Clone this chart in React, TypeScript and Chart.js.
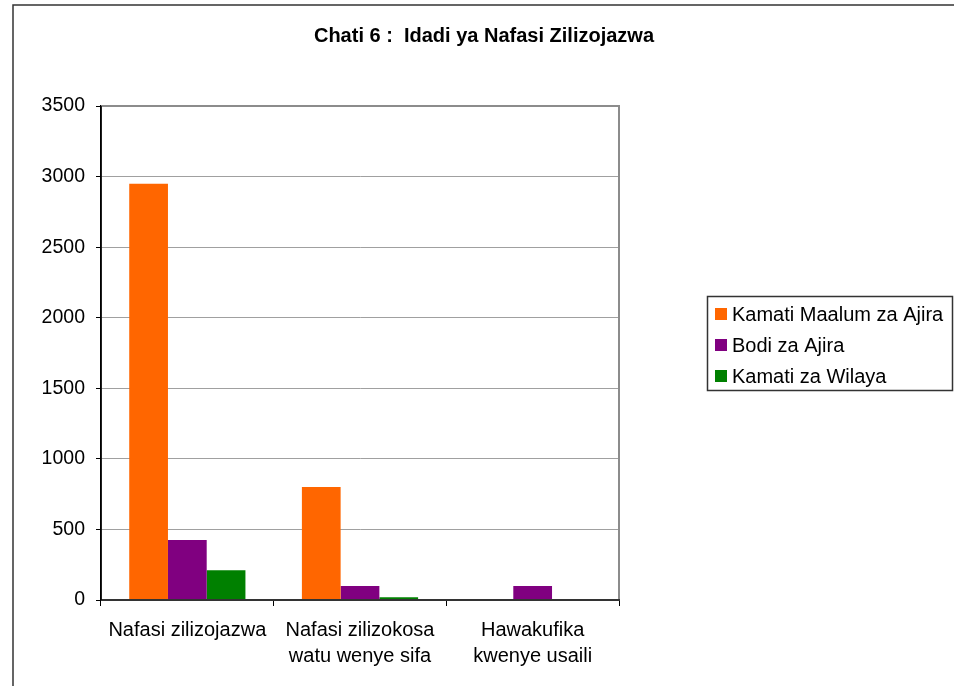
import React, { useEffect, useRef } from "react";
import { Chart, registerables } from "chart.js";

Chart.register(...registerables);

const categories: string[][] = [
  ["Nafasi zilizojazwa"],
  ["Nafasi zilizokosa", "watu wenye sifa"],
  ["Hawakufika", "kwenye usaili"],
];
const seriesNames = ["Kamati Maalum za Ajira", "Bodi za Ajira", "Kamati za Wilaya"];
const kamatiMaalum = [2950, 800, 0];
const bodiAjira = [425, 100, 100];
const kamatiWilaya = [210, 20, 0];
const seriesColors = ["#FF6600", "#800080", "#008000"];
const titleText = "Chati 6 :  Idadi ya Nafasi Zilizojazwa";
const yMin = 0;
const yMax = 3500;
const yStep = 500;

const FONT = "'Liberation Sans', Arial, sans-serif";

const decorPlugin = {
  id: "decor",
  beforeDraw(chart: any) {
    const ctx = chart.ctx;
    ctx.save();
    ctx.fillStyle = "#ffffff";
    ctx.fillRect(0, 0, chart.width, chart.height);
    // outer frame
    ctx.strokeStyle = "#333333";
    ctx.lineWidth = 1.5;
    ctx.beginPath();
    ctx.moveTo(13, chart.height + 2);
    ctx.lineTo(13, 5);
    ctx.lineTo(chart.width + 2, 5);
    ctx.stroke();
    // title
    ctx.fillStyle = "#000000";
    ctx.font = `bold 20px ${FONT}`;
    ctx.textAlign = "center";
    ctx.textBaseline = "alphabetic";
    ctx.fillText(titleText, 484, 42);
    ctx.restore();
  },
  afterDatasetsDraw(chart: any) {
    const ctx = chart.ctx;
    const a = chart.chartArea;
    ctx.save();
    ctx.strokeStyle = "#8c8c8c";
    ctx.lineWidth = 2;
    ctx.beginPath();
    ctx.moveTo(a.left, a.top);
    ctx.lineTo(a.right, a.top);
    ctx.lineTo(a.right, a.bottom);
    ctx.stroke();
    ctx.strokeStyle = "#333333";
    ctx.lineWidth = 2;
    ctx.beginPath();
    ctx.moveTo(a.left, a.bottom);
    ctx.lineTo(a.right + 1, a.bottom);
    ctx.stroke();
    ctx.strokeStyle = "#000000";
    ctx.lineWidth = 1.5;
    ctx.beginPath();
    ctx.moveTo(a.left, a.top);
    ctx.lineTo(a.left, a.bottom);
    ctx.stroke();

    // legend
    const lx = 707.5, ly = 296.5, lw = 245, lh = 94;
    ctx.strokeStyle = "#333333";
    ctx.lineWidth = 1.5;
    ctx.strokeRect(lx, ly, lw, lh);
    ctx.font = `20px ${FONT}`;
    ctx.textAlign = "left";
    ctx.textBaseline = "alphabetic";
    seriesNames.forEach((name, i) => {
      const cy = 314 + i * 31;
      ctx.fillStyle = seriesColors[i];
      ctx.fillRect(715, cy - 6, 12, 12);
      ctx.fillStyle = "#000000";
      ctx.fillText(name, 732, cy + 6.5);
    });
    ctx.restore();
  },
};

export default function App() {
  const ref = useRef<HTMLCanvasElement | null>(null);
  useEffect(() => {
    if (!ref.current) return;
    const chart = new Chart(ref.current, {
      type: "bar",
      data: {
        labels: categories,
        datasets: [
          { label: seriesNames[0], data: kamatiMaalum, backgroundColor: seriesColors[0] },
          { label: seriesNames[1], data: bodiAjira, backgroundColor: seriesColors[1] },
          { label: seriesNames[2], data: kamatiWilaya, backgroundColor: seriesColors[2] },
        ],
      },
      options: {
        animation: false,
        responsive: false,
        devicePixelRatio: 1,
        layout: { padding: { left: 0, right: 335, top: 106, bottom: 0 } },
        datasets: {
          bar: { categoryPercentage: 0.673, barPercentage: 1, borderWidth: 0 },
        },
        plugins: {
          legend: { display: false },
          title: { display: false },
          tooltip: { enabled: false },
        },
        scales: {
          x: {
            afterFit: (s: any) => {
              s.height = 86;
            },
            grid: {
              display: true,
              drawOnChartArea: false,
              drawTicks: true,
              tickLength: 6,
              tickColor: "#000000",
              offset: true,
            },
            border: { display: true, color: "#333333", width: 2 },
            ticks: {
              color: "#000000",
              font: { family: FONT, size: 20, lineHeight: 1.3 },
              padding: 11,
              maxRotation: 0,
              autoSkip: false,
            },
          },
          y: {
            min: yMin,
            max: yMax,
            afterFit: (s: any) => {
              s.width = 101;
            },
            grid: {
              color: "#a0a0a0",
              lineWidth: 1,
              tickLength: 5,
              tickColor: "#000000",
            },
            border: { display: true, color: "#000000", width: 1.5 },
            ticks: {
              stepSize: yStep,
              color: "#000000",
              font: { family: FONT, size: 19.5 },
              padding: 11,
              callback: (v: any) => String(v),
            },
          },
        },
      },
      plugins: [decorPlugin],
    });
    return () => chart.destroy();
  }, []);
  return (
    <div style={{ position: "absolute", left: 0, top: 0, width: 954, height: 686, background: "#fff" }}>
      <canvas ref={ref} width={954} height={686} style={{ width: 954, height: 686, display: "block" }} />
    </div>
  );
}
